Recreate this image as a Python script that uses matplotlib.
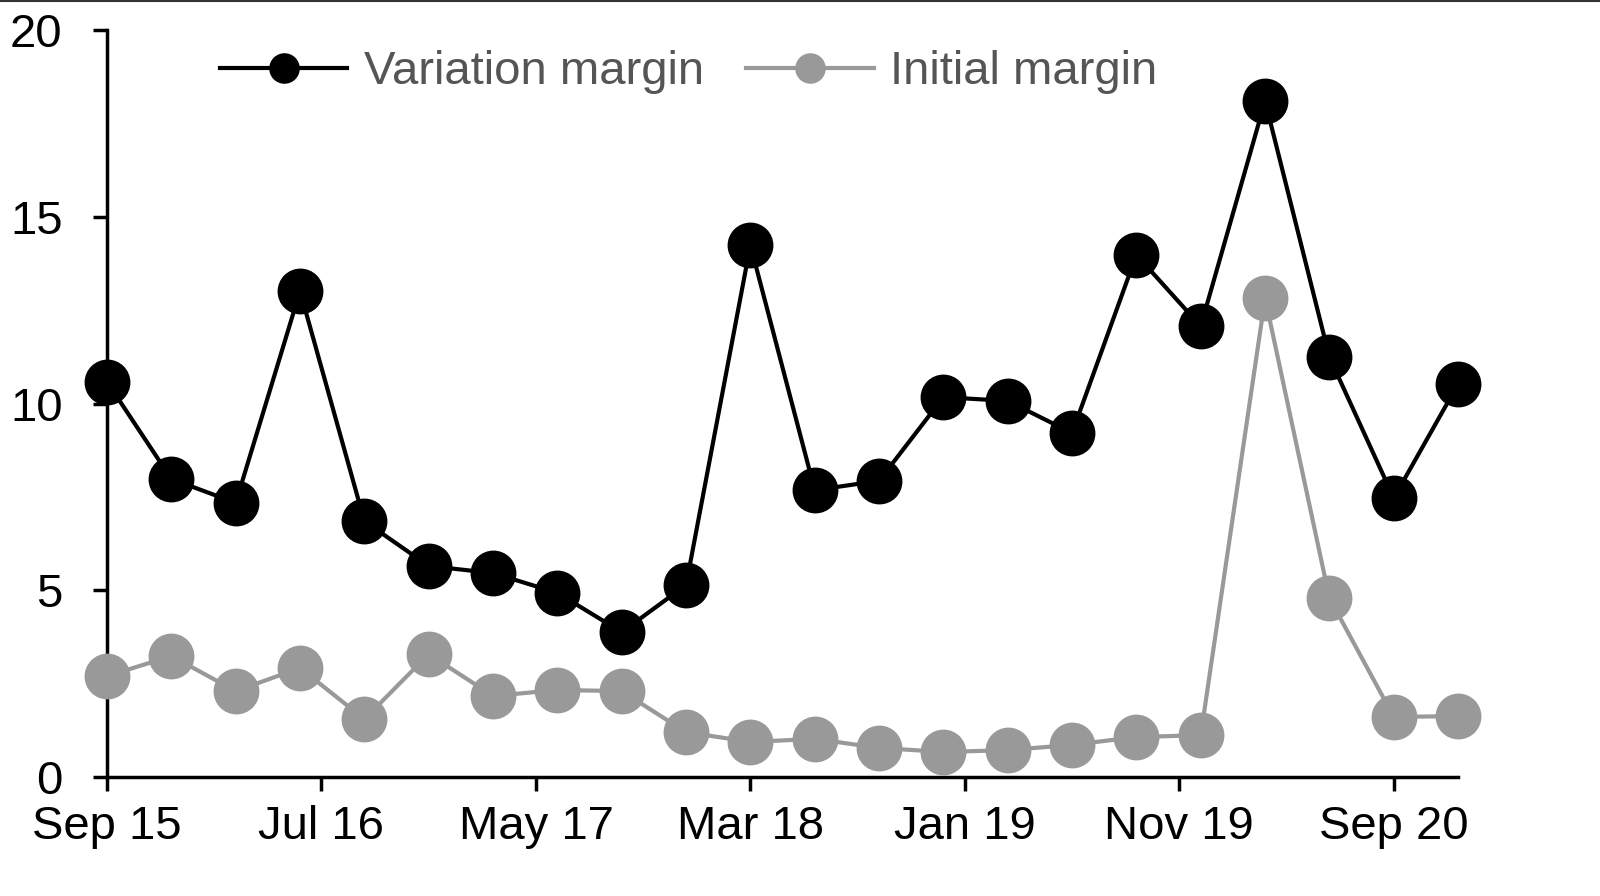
import matplotlib
matplotlib.use("Agg")
import matplotlib.pyplot as plt
from matplotlib.lines import Line2D

plt.rcParams['font.family'] = ['Liberation Sans Narrow', 'Liberation Sans', 'DejaVu Sans']

# quarterly observations, Sep 15 .. Dec 20 (months since Sep 2015)
months = list(range(0, 64, 3))
variation_margin = [10.58, 7.98, 7.34, 13.01, 6.85, 5.65, 5.46, 4.93, 3.88, 5.14,
                    14.24, 7.68, 7.93, 10.17, 10.07, 9.21, 13.98, 12.07, 18.10,
                    11.24, 7.47, 10.52]
initial_margin = [2.70, 3.24, 2.30, 2.92, 1.55, 3.29, 2.17, 2.33, 2.30, 1.20,
                  0.94, 1.02, 0.78, 0.67, 0.72, 0.86, 1.07, 1.12, 12.82,
                  4.79, 1.61, 1.63]
tick_months = [0, 10, 20, 30, 40, 50, 60]
tick_labels = ["Sep 15", "Jul 16", "May 17", "Mar 18", "Jan 19", "Nov 19", "Sep 20"]

fig = plt.figure(figsize=(16, 8.96), dpi=100)
ax = fig.add_axes([0.0669, 0.1328, 0.8444, 0.8337])

grey = "#999999"
ax.plot(months, initial_margin, color=grey, lw=3, marker="o", ms=32,
        clip_on=False, zorder=3)
ax.plot(months, variation_margin, color="black", lw=3, marker="o", ms=32,
        clip_on=False, zorder=4)

ax.set_xlim(0, 63)
ax.set_ylim(0, 20)
ax.set_yticks([0, 5, 10, 15, 20])
ax.set_xticks(tick_months)
ax.set_xticklabels(tick_labels)

for s in ["top", "right"]:
    ax.spines[s].set_visible(False)
for s in ["left", "bottom"]:
    ax.spines[s].set_linewidth(2.5)

ax.tick_params(axis="both", labelsize=34, width=2.5, length=10, direction="out",
               colors="black")
ax.tick_params(axis="x", pad=10)
ax.tick_params(axis="y", pad=22)

handles = [
    Line2D([], [], color="black", lw=3, marker="o", ms=21),
    Line2D([], [], color=grey, lw=3, marker="o", ms=21),
]
leg = ax.legend(handles, ["Variation margin", "Initial margin"], loc="upper left",
                bbox_to_anchor=(0.052, 1.03), ncol=2, frameon=False, fontsize=34,
                handlelength=2.7, columnspacing=0.9, handletextpad=0.35)
for t in leg.get_texts():
    t.set_color("#555555")

# thin frame line along the top of the picture
fig.add_artist(Line2D([0, 1], [0.999, 0.999], color="#333333", lw=1.5,
                      transform=fig.transFigure))

fig.savefig("out.png", dpi=100)
